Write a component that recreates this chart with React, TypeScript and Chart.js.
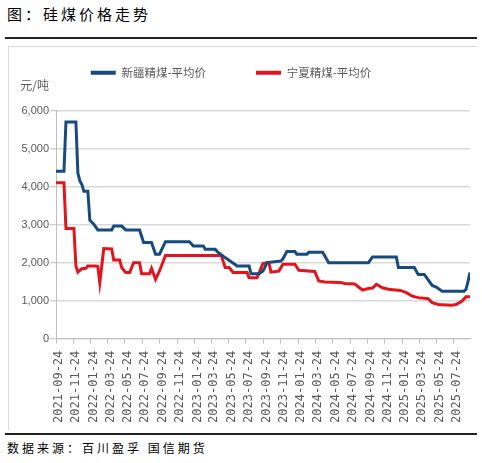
import React, { useEffect, useRef } from "react";
import { Chart, registerables } from "chart.js";

Chart.register(...registerables);

const START = "2021-09-24";
const END = "2025-09-19";

const tickLabels = [
  "2021-09-24", "2021-11-24", "2022-01-24", "2022-03-24", "2022-05-24", "2022-07-24",
  "2022-09-24", "2022-11-24", "2023-01-24", "2023-03-24", "2023-05-24", "2023-07-24",
  "2023-09-24", "2023-11-24", "2024-01-24", "2024-03-24", "2024-05-24", "2024-07-24",
  "2024-09-24", "2024-11-24", "2025-01-24", "2025-03-24", "2025-05-24", "2025-07-24",
];

const seriesNames = ["新疆精煤-平均价", "宁夏精煤-平均价"];

const xjDates = [
  "2021-09-24", "2021-10-22", "2021-10-29", "2021-12-03", "2021-12-10", "2021-12-17",
  "2021-12-24", "2021-12-31", "2022-01-14", "2022-01-21", "2022-02-04", "2022-02-18",
  "2022-04-08", "2022-04-15", "2022-05-13", "2022-05-27", "2022-07-15", "2022-07-29",
  "2022-08-26", "2022-09-09", "2022-09-23", "2022-10-14", "2023-01-06", "2023-01-20",
  "2023-02-24", "2023-03-03", "2023-04-07", "2023-04-14", "2023-05-05", "2023-06-02",
  "2023-06-23", "2023-08-04", "2023-08-11", "2023-09-08", "2023-09-22", "2023-09-29",
  "2023-10-06", "2023-11-24", "2023-12-01", "2023-12-15", "2024-01-12", "2024-01-19",
  "2024-02-23", "2024-03-01", "2024-04-19", "2024-05-10", "2024-09-27", "2024-10-11",
  "2025-01-03", "2025-01-10", "2025-03-07", "2025-03-21", "2025-04-11", "2025-04-18",
  "2025-05-09", "2025-05-23", "2025-06-13", "2025-08-29", "2025-09-05", "2025-09-12",
  "2025-09-19",
];
const xjValues = [
  4400, 4400, 5700, 5700, 4350, 4150,
  4050, 3880, 3880, 3110, 3010, 2860,
  2860, 2960, 2960, 2860, 2860, 2530,
  2530, 2220, 2220, 2550, 2550, 2440,
  2440, 2350, 2350, 2290, 2170, 2025,
  1910, 1910, 1710, 1710, 1780, 1880,
  2000, 2040, 2100, 2290, 2290, 2220,
  2220, 2270, 2270, 2000, 2000, 2150,
  2150, 1870, 1870, 1690, 1690, 1620,
  1400, 1360, 1250, 1250, 1300, 1500,
  1740,
];

const nxDates = [
  "2021-09-24", "2021-10-22", "2021-10-29", "2021-11-26", "2021-12-03", "2021-12-10",
  "2021-12-24", "2022-01-07", "2022-01-14", "2022-02-11", "2022-02-18", "2022-02-25",
  "2022-03-11", "2022-04-08", "2022-04-15", "2022-05-06", "2022-05-13", "2022-05-27",
  "2022-06-10", "2022-06-24", "2022-07-15", "2022-07-22", "2022-08-19", "2022-08-26",
  "2022-09-09", "2022-09-23", "2022-10-14", "2023-04-28", "2023-05-12", "2023-05-26",
  "2023-06-09", "2023-07-28", "2023-08-04", "2023-09-01", "2023-09-22", "2023-10-13",
  "2023-10-20", "2023-11-17", "2023-12-01", "2024-01-12", "2024-01-26", "2024-03-22",
  "2024-04-05", "2024-04-26", "2024-06-21", "2024-07-05", "2024-08-09", "2024-08-23",
  "2024-09-06", "2024-09-27", "2024-10-11", "2024-10-25", "2024-11-15", "2024-12-06",
  "2025-01-17", "2025-02-07", "2025-02-28", "2025-03-21", "2025-04-25", "2025-05-09",
  "2025-05-30", "2025-07-18", "2025-08-01", "2025-08-22", "2025-09-05", "2025-09-19",
];
const nxValues = [
  4100, 4100, 2900, 2900, 1910, 1750,
  1840, 1850, 1910, 1910, 1900, 1470,
  2370, 2360, 2070, 2070, 1870, 1740,
  1740, 2000, 2000, 1710, 1710, 1850,
  1560, 1780, 2190, 2190, 1870, 1870,
  1740, 1740, 1600, 1600, 1980, 2000,
  1750, 1780, 1960, 1960, 1800, 1770,
  1520, 1490, 1480, 1450, 1440, 1360,
  1280, 1320, 1330, 1430, 1340, 1300,
  1270, 1210, 1120, 1080, 1050, 950,
  900, 880, 900, 990, 1100, 1100,
];

const BLUE = "#174A7E";
const RED = "#E2141C";
const GRAY_TEXT = "#595959";

const dayOf = (d: string) => (Date.parse(d) - Date.parse(START)) / 86400000;
const toPoints = (dates: string[], values: number[]) =>
  dates.map((d, i) => ({ x: dayOf(d), y: values[i] }));

const LEGEND_EXTRA = 22;

const helperPlugin = {
  id: "helperPlugin",
  beforeInit(chart: any) {
    const legend = chart.legend;
    if (legend && !legend.__patched) {
      const orig = legend.fit;
      legend.fit = function () {
        orig.call(this);
        if (this.options.display) this.height += LEGEND_EXTRA;
      };
      legend.__patched = true;
    }
  },
  afterDraw(chart: any) {
    const { ctx, chartArea } = chart;
    ctx.save();
    ctx.font = '12px "Noto Sans CJK SC"';
    ctx.fillStyle = GRAY_TEXT;
    ctx.textAlign = "right";
    ctx.textBaseline = "middle";
    ctx.fillText("元/吨", chartArea.left - 7, chartArea.top - 25);
    ctx.restore();
  },
};

function PriceChart() {
  const ref = useRef<HTMLCanvasElement | null>(null);
  useEffect(() => {
    if (!ref.current) return;
    const chart = new Chart(ref.current, {
      type: "line",
      data: {
        datasets: [
          {
            label: seriesNames[0],
            data: toPoints(xjDates, xjValues),
            borderColor: BLUE,
            backgroundColor: BLUE,
            borderWidth: 3,
            pointRadius: 0,
            tension: 0,
          },
          {
            label: seriesNames[1],
            data: toPoints(nxDates, nxValues),
            borderColor: RED,
            backgroundColor: RED,
            borderWidth: 3,
            pointRadius: 0,
            tension: 0,
          },
        ],
      },
      options: {
        animation: false,
        responsive: false,
        maintainAspectRatio: false,
        layout: { padding: { top: -31, left: -18, right: 8, bottom: 0 } },
        plugins: {
          tooltip: { enabled: false },
          title: { display: false },
          legend: {
            display: true,
            position: "top",
            align: "center",
            labels: {
              boxWidth: 25,
              boxHeight: 4,
              padding: 50,
              color: GRAY_TEXT,
              font: { family: '"Noto Sans CJK SC"', size: 11.5 },
              generateLabels: (c: any) =>
                Chart.defaults.plugins.legend.labels
                  .generateLabels(c)
                  .map((l: any) => ({ ...l, lineWidth: 0 })),
            },
          },
        },
        scales: {
          x: {
            type: "linear",
            min: 0,
            max: dayOf(END),
            afterFit: (s: any) => {
              s.height = 91.3;
            },
            afterBuildTicks: (s: any) => {
              s.ticks = tickLabels.map((t) => ({ value: dayOf(t) }));
            },
            grid: {
              display: true,
              drawOnChartArea: false,
              drawTicks: true,
              tickLength: 5,
              tickColor: "#bfbfbf",
              color: "#bfbfbf",
            },
            border: { display: true, color: "#bfbfbf", width: 1 },
            ticks: {
              autoSkip: false,
              minRotation: 90,
              maxRotation: 90,
              padding: 7,
              labelOffset: 3,
              color: GRAY_TEXT,
              font: { family: '"DejaVu Sans Mono"', size: 12 },
              callback: (v: any) => tickLabels.find((t) => dayOf(t) === v) ?? "",
            },
          },
          y: {
            min: 0,
            max: 6000,
            afterFit: (s: any) => {
              s.width = 64;
            },
            grid: {
              color: "#d9d9d9",
              lineWidth: 1.5,
              drawTicks: true,
              tickLength: 6,
              tickColor: "#bfbfbf",
              tickWidth: 1,
            },
            border: { display: true, color: "#bfbfbf", width: 1 },
            ticks: {
              stepSize: 1000,
              padding: 1,
              color: GRAY_TEXT,
              font: { family: '"Liberation Sans"', size: 11 },
            },
          },
        },
      },
      plugins: [helperPlugin],
    } as any);
    return () => chart.destroy();
  }, []);
  return (
    <canvas
      ref={ref}
      width={468}
      height={382}
      style={{ position: "absolute", left: 1, top: 1, width: 468, height: 382 }}
    />
  );
}

export default function App() {
  return (
    <div style={{ position: "absolute", left: 0, top: 0, width: 482, height: 463, background: "#fff" }}>
      <div
        style={{
          position: "absolute",
          left: 7,
          top: 4,
          fontFamily: '"Noto Sans CJK SC"',
          fontSize: 15,
          lineHeight: "20px",
          letterSpacing: 3,
          color: "#000",
          whiteSpace: "nowrap",
        }}
      >
        图：硅煤价格走势
      </div>
      <div style={{ position: "absolute", left: 5, top: 37, width: 472, height: 1.5, background: "#222" }} />
      <div
        style={{
          position: "absolute",
          left: 8,
          top: 46,
          width: 469,
          height: 384,
          borderTop: "1px solid #d9d9d9",
          borderLeft: "1px solid #d9d9d9",
          boxSizing: "border-box",
        }}
      >
        <PriceChart />
      </div>
      <div style={{ position: "absolute", left: 5, top: 433, width: 472, height: 1.5, background: "#222" }} />
      <div
        style={{
          position: "absolute",
          left: 7,
          top: 439,
          fontFamily: '"Noto Sans CJK SC"',
          fontSize: 12,
          lineHeight: "18px",
          letterSpacing: 3,
          color: "#000",
          whiteSpace: "nowrap",
        }}
      >
        数据来源：百川盈孚 国信期货
      </div>
    </div>
  );
}
